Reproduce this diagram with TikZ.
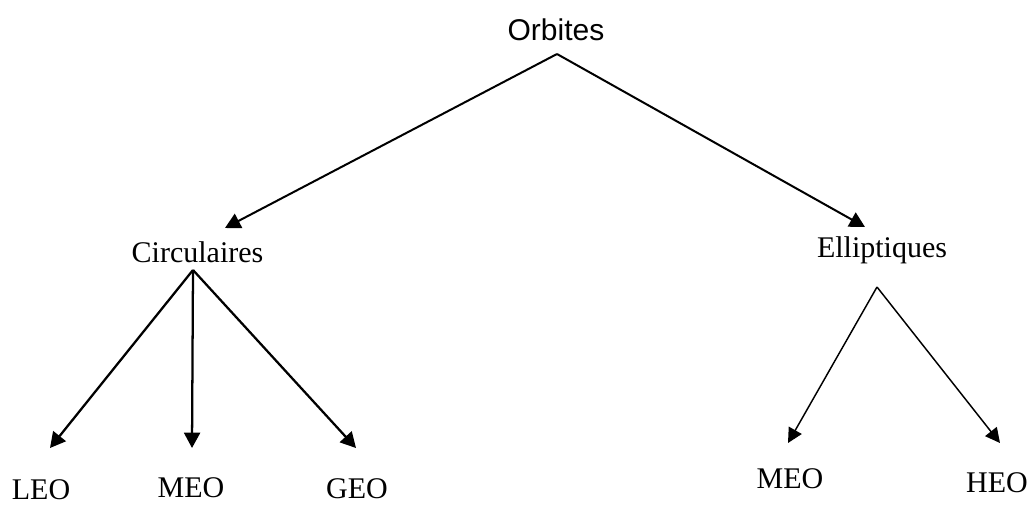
\documentclass[tikz,border=0pt]{standalone}
\usepackage{fontspec}
\setmainfont{Liberation Serif}
\newfontfamily\arialfont{Liberation Sans}
\usetikzlibrary{arrows.meta}
\tikzset{
  lbl/.style={anchor=base, inner sep=0pt, font=\fontsize{22.5}{27}\selectfont},
  toplbl/.style={anchor=base, inner sep=0pt, font=\arialfont\fontsize{22.5}{27}\selectfont},
  conn/.style={line width=1.7pt, -{Triangle[length=11.5pt,width=12pt]}},
  thinconn/.style={line width=1.1pt, -{Triangle[length=11pt,width=11pt]}},
  topline/.style={line width=1.5pt, -{Triangle[length=11.5pt,width=12pt]}}
}
\begin{document}
\begin{tikzpicture}[x=0.75pt,y=-0.75pt]
\useasboundingbox (0,0) rectangle (1032,504);
\node[toplbl] (orb) at (556,40) {Orbites};
\node[lbl] (circ) at (197.5,262) {Circulaires};
\node[lbl] (ell) at (882,257) {Elliptiques};
\node[lbl] (leo) at (41,499) {LEO};
\node[lbl] (meo1) at (191,497) {MEO};
\node[lbl] (geo) at (357,498) {GEO};
\node[lbl] (meo2) at (790,488) {MEO};
\node[lbl] (heo) at (997,492) {HEO};
% connector anchor points
\coordinate (orbA) at (557,54);
\coordinate (circT) at (225,228);
\coordinate (ellT) at (865,227);
\coordinate (circA) at (193,270);
\coordinate (leoT) at (50,448);
\coordinate (meo1T) at (192,448);
\coordinate (geoT) at (356,448);
\coordinate (ellA) at (877,287);
\coordinate (meo2T) at (788,443);
\coordinate (heoT) at (1000,443);
\draw[topline] (orbA) -- (circT);
\draw[topline] (orbA) -- (ellT);
\draw[conn] (circA) -- (leoT);
\draw[conn] (circA) -- (meo1T);
\draw[conn] (circA) -- (geoT);
\draw[thinconn] (ellA) -- (meo2T);
\draw[thinconn] (ellA) -- (heoT);
\end{tikzpicture}
\end{document}
